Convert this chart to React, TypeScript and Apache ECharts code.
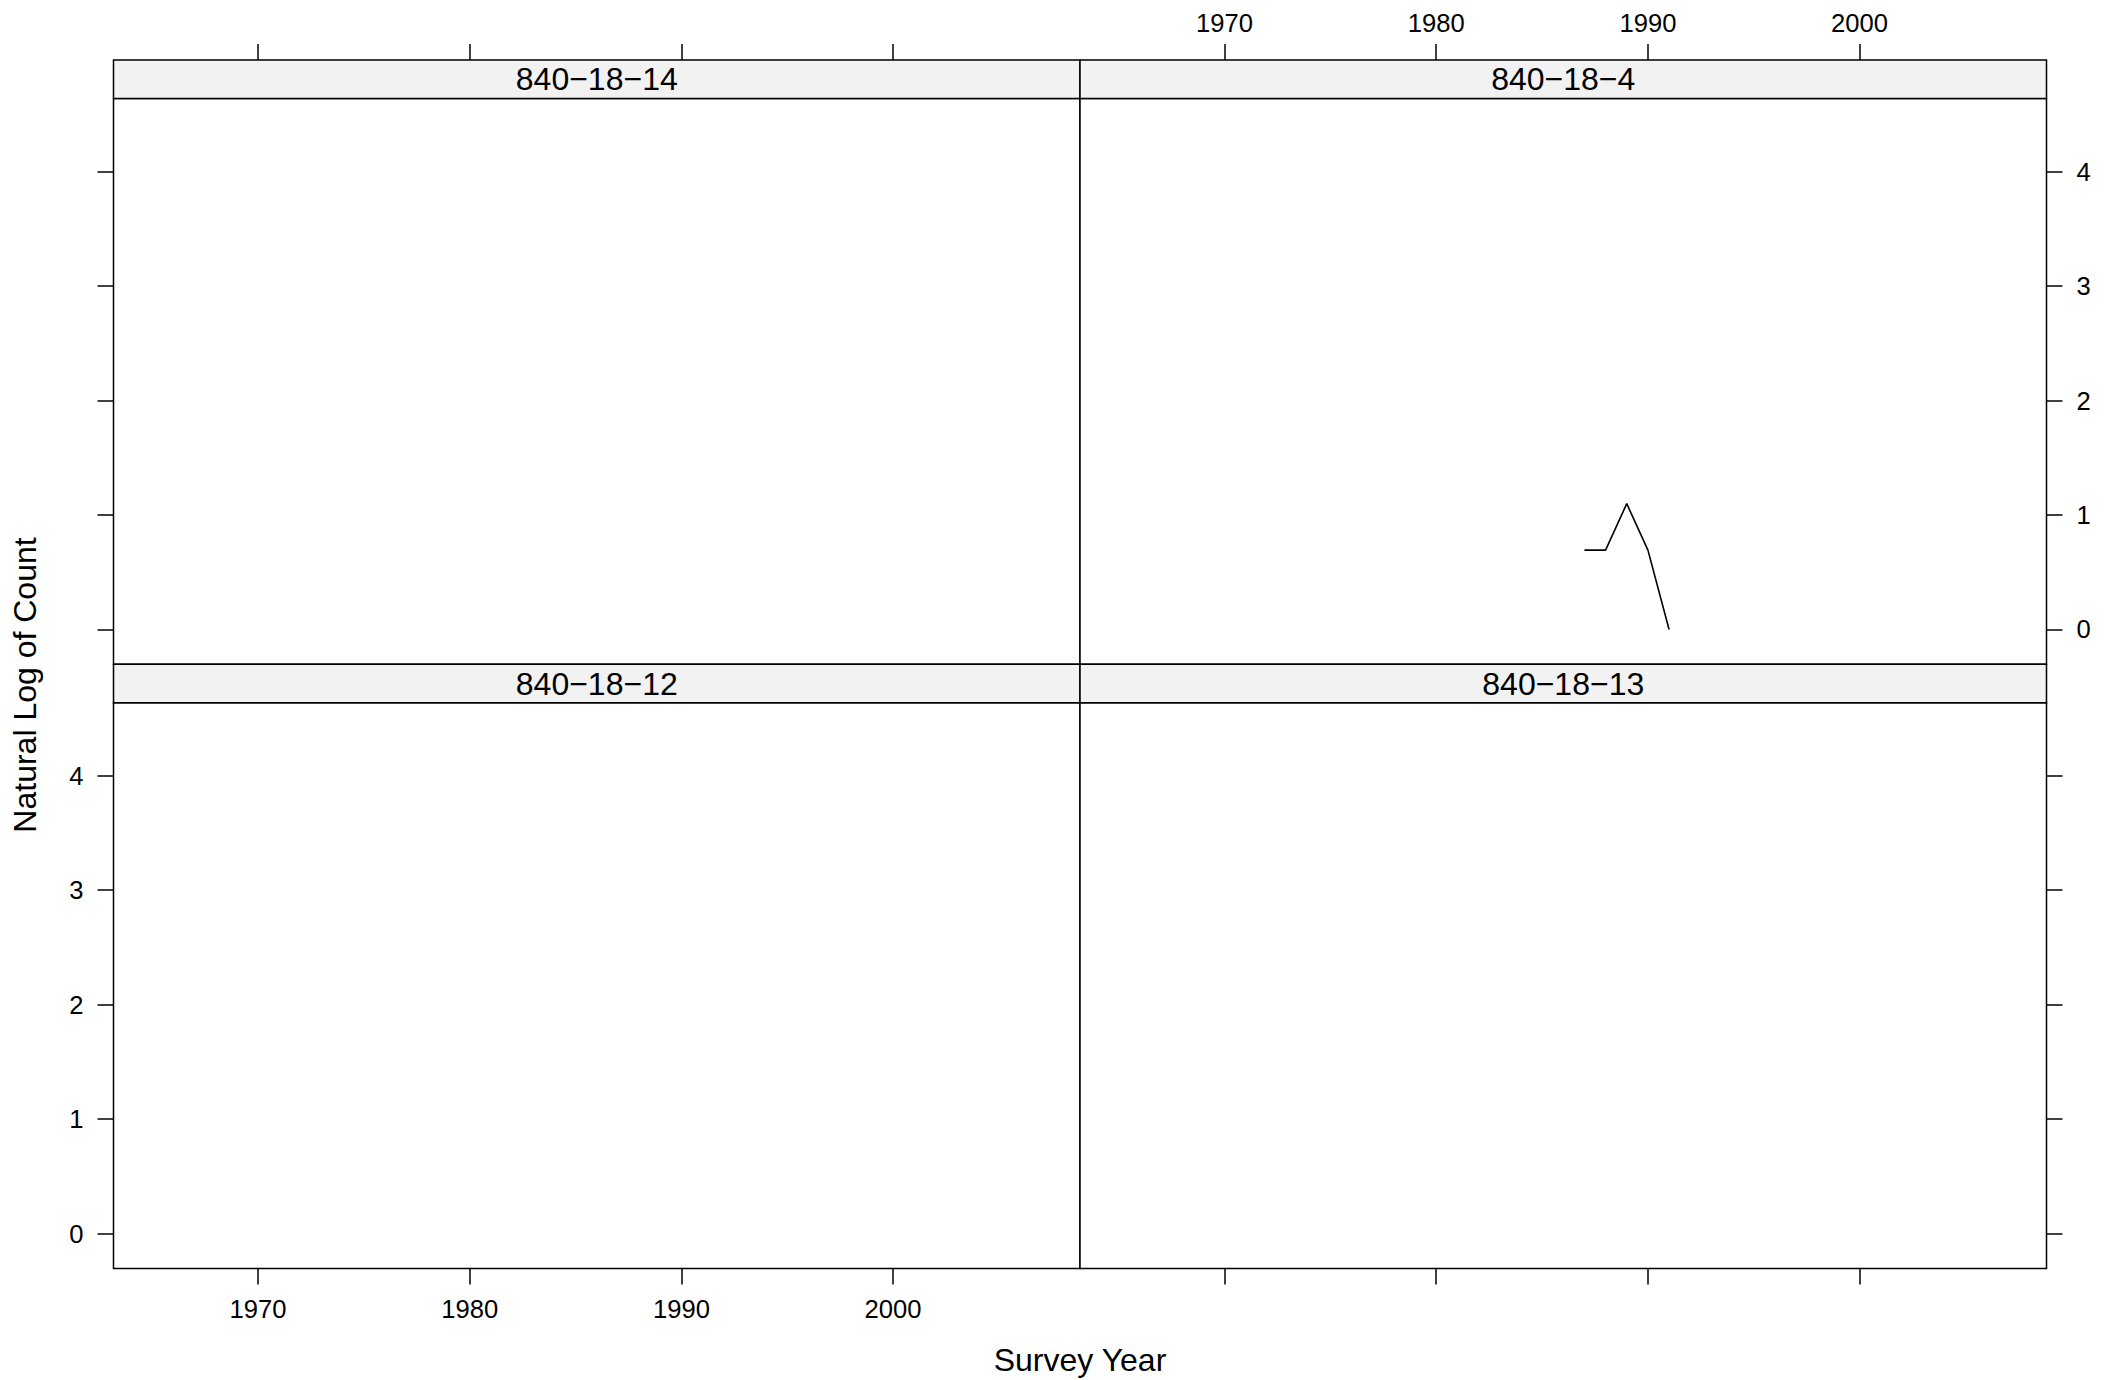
import React, { useEffect, useRef } from "react";
import * as echarts from "echarts";

const panelTitles = ["840\u221218\u221214", "840\u221218\u22124", "840\u221218\u221212", "840\u221218\u221213"];
const xTicks = [1970, 1980, 1990, 2000];
const yTicks = [0, 1, 2, 3, 4];
const years4 = [1987, 1988, 1989, 1990, 1991];
const logCount4 = [0.693, 0.693, 1.099, 0.693, 0];
const panelYears: number[][] = [[], years4, [], []];
const panelValues: number[][] = [[], logCount4, [], []];

const X_MIN = 1963.17;
const X_MAX = 2008.83;
const Y_MIN = -0.304;
const Y_MAX = 4.638;

const FONT = "'Liberation Sans', Arial, Helvetica, sans-serif";

export default function App() {
  const ref = useRef<HTMLDivElement>(null);
  useEffect(() => {
    if (!ref.current) return;
    const chart = echarts.init(ref.current, undefined, { renderer: "svg" });
    const L = 113.5, M = 1080;
    const W = M - L;
    const stripH = 38.5;
    const rows = [
      { stripTop: 60, plotTop: 98.5 },
      { stripTop: 664.3, plotTop: 702.7 },
    ];
    const plotH = 565.8;
    const lefts = [L, M];
    const grids: any[] = [];
    const graphics: any[] = [];
    for (let r = 0; r < 2; r++) {
      for (let c = 0; c < 2; c++) {
        const i = r * 2 + c;
        grids.push({
          left: lefts[c],
          top: rows[r].plotTop,
          width: W,
          height: plotH,
          show: true,
          borderColor: "#000",
          borderWidth: 1.5,
          backgroundColor: "#fff",
          containLabel: false,
          outerBoundsMode: "none",
        });
        graphics.push({
          type: "rect",
          shape: { x: lefts[c], y: rows[r].stripTop, width: W, height: stripH },
          style: { fill: "#f2f2f2", stroke: "#000", lineWidth: 1.5 },
          z: 10,
        });
        graphics.push({
          type: "text",
          x: lefts[c] + W / 2,
          y: rows[r].stripTop + stripH / 2,
          style: {
            text: panelTitles[i],
            font: `32px ${FONT}`,
            fill: "#000",
            align: "center",
            verticalAlign: "middle",
          },
          z: 11,
        });
      }
    }
    graphics.push({
      type: "text",
      x: 1080,
      y: 1360,
      style: { text: "Survey Year", font: `32px ${FONT}`, fill: "#000", align: "center", verticalAlign: "middle" },
    });
    graphics.push({
      type: "text",
      x: 25,
      y: 685,
      rotation: Math.PI / 2,
      style: { text: "Natural Log of Count", font: `32px ${FONT}`, fill: "#000", align: "center", verticalAlign: "middle" },
    });

    const tickStyle = { color: "#000", width: 1.5 };
    const labelStyle = { color: "#000", fontSize: 25.6, fontFamily: FONT, formatter: (v: number) => String(v) };
    const xConf = [
      { pos: "top", offset: stripH, label: false },
      { pos: "top", offset: stripH, label: true },
      { pos: "bottom", offset: 0, label: true },
      { pos: "bottom", offset: 0, label: false },
    ];
    const yConf = [
      { pos: "left", label: false },
      { pos: "right", label: true },
      { pos: "left", label: true },
      { pos: "right", label: false },
    ];
    const xAxes = xConf.map((cf, i) => ({
      type: "value",
      gridIndex: i,
      position: cf.pos,
      offset: cf.offset,
      min: X_MIN,
      max: X_MAX,
      axisLine: { show: false, onZero: false },
      splitLine: { show: false },
      axisTick: { show: true, length: 16, inside: false, customValues: xTicks, lineStyle: tickStyle },
      axisLabel: {
        show: cf.label,
        customValues: xTicks,
        margin: cf.pos === "top" ? 24 : 27,
        ...labelStyle,
      },
    }));
    const yAxes = yConf.map((cf, i) => ({
      type: "value",
      gridIndex: i,
      position: cf.pos,
      min: Y_MIN,
      max: Y_MAX,
      axisLine: { show: false, onZero: false },
      splitLine: { show: false },
      axisTick: { show: true, length: 16, inside: false, customValues: yTicks, lineStyle: tickStyle },
      axisLabel: { show: cf.label, customValues: yTicks, margin: 30, ...labelStyle },
    }));
    const series = panelTitles.map((name, i) => ({
      type: "line",
      name,
      xAxisIndex: i,
      yAxisIndex: i,
      showSymbol: false,
      symbol: "none",
      lineStyle: { color: "#000", width: 1.6 },
      data: panelYears[i].map((y, k) => [y, panelValues[i][k]]),
    }));

    chart.setOption({
      animation: false,
      backgroundColor: "#fff",
      textStyle: { fontFamily: FONT },
      grid: grids,
      xAxis: xAxes,
      yAxis: yAxes,
      series,
      graphic: graphics,
    });
    return () => chart.dispose();
  }, []);
  return (
    <div
      ref={ref}
      style={{ position: "fixed", left: 0, top: 0, width: 2121, height: 1380, background: "#fff" }}
    />
  );
}
